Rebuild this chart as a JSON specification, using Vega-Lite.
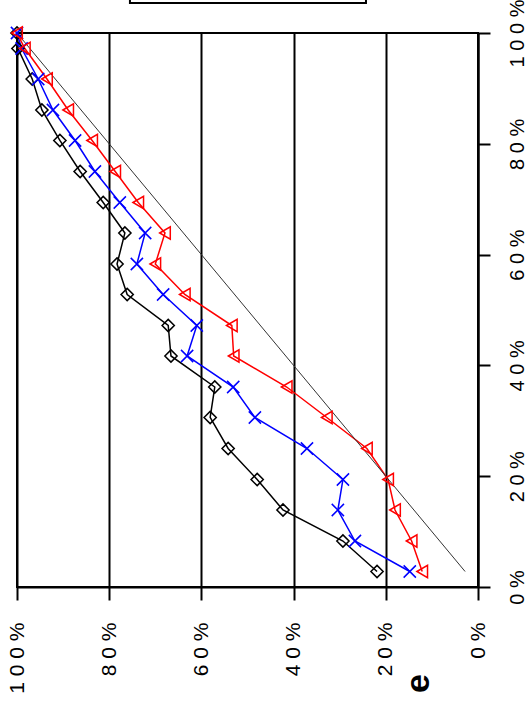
{
  "$schema": "https://vega.github.io/schema/vega-lite/v6.json",
  "autosize": {"type": "none"},
  "padding": {"left": 17, "top": 33, "right": 53, "bottom": 117},
  "width": 461,
  "height": 554,
  "background": "white",
  "config": {
    "view": {"stroke": "black", "strokeWidth": 2},
    "font": "Liberation Sans"
  },
  "datasets": {
    "series": [
      {"series": "Series 1", "v": 0.028, "h": 0.219},
      {"series": "Series 1", "v": 0.083, "h": 0.293},
      {"series": "Series 1", "v": 0.139, "h": 0.423},
      {"series": "Series 1", "v": 0.194, "h": 0.479},
      {"series": "Series 1", "v": 0.25, "h": 0.542},
      {"series": "Series 1", "v": 0.306, "h": 0.581},
      {"series": "Series 1", "v": 0.361, "h": 0.571},
      {"series": "Series 1", "v": 0.417, "h": 0.666},
      {"series": "Series 1", "v": 0.472, "h": 0.672},
      {"series": "Series 1", "v": 0.528, "h": 0.761},
      {"series": "Series 1", "v": 0.583, "h": 0.783},
      {"series": "Series 1", "v": 0.639, "h": 0.766},
      {"series": "Series 1", "v": 0.694, "h": 0.813},
      {"series": "Series 1", "v": 0.75, "h": 0.863},
      {"series": "Series 1", "v": 0.806, "h": 0.907},
      {"series": "Series 1", "v": 0.861, "h": 0.946},
      {"series": "Series 1", "v": 0.917, "h": 0.967},
      {"series": "Series 1", "v": 0.972, "h": 0.998},
      {"series": "Series 1", "v": 1.0, "h": 1.0},
      {"series": "Series 2", "v": 0.028, "h": 0.148},
      {"series": "Series 2", "v": 0.083, "h": 0.267},
      {"series": "Series 2", "v": 0.139, "h": 0.304},
      {"series": "Series 2", "v": 0.194, "h": 0.293},
      {"series": "Series 2", "v": 0.25, "h": 0.371},
      {"series": "Series 2", "v": 0.306, "h": 0.484},
      {"series": "Series 2", "v": 0.361, "h": 0.531},
      {"series": "Series 2", "v": 0.417, "h": 0.631},
      {"series": "Series 2", "v": 0.472, "h": 0.61},
      {"series": "Series 2", "v": 0.528, "h": 0.683},
      {"series": "Series 2", "v": 0.583, "h": 0.74},
      {"series": "Series 2", "v": 0.639, "h": 0.722},
      {"series": "Series 2", "v": 0.694, "h": 0.777},
      {"series": "Series 2", "v": 0.75, "h": 0.831},
      {"series": "Series 2", "v": 0.806, "h": 0.874},
      {"series": "Series 2", "v": 0.861, "h": 0.922},
      {"series": "Series 2", "v": 0.917, "h": 0.954},
      {"series": "Series 2", "v": 0.972, "h": 0.99},
      {"series": "Series 2", "v": 1.0, "h": 1.0},
      {"series": "Series 3", "v": 0.028, "h": 0.121},
      {"series": "Series 3", "v": 0.083, "h": 0.144},
      {"series": "Series 3", "v": 0.139, "h": 0.18},
      {"series": "Series 3", "v": 0.194, "h": 0.195},
      {"series": "Series 3", "v": 0.25, "h": 0.241},
      {"series": "Series 3", "v": 0.306, "h": 0.328},
      {"series": "Series 3", "v": 0.361, "h": 0.415},
      {"series": "Series 3", "v": 0.417, "h": 0.53},
      {"series": "Series 3", "v": 0.472, "h": 0.534},
      {"series": "Series 3", "v": 0.528, "h": 0.636},
      {"series": "Series 3", "v": 0.583, "h": 0.7},
      {"series": "Series 3", "v": 0.639, "h": 0.679},
      {"series": "Series 3", "v": 0.694, "h": 0.737},
      {"series": "Series 3", "v": 0.75, "h": 0.787},
      {"series": "Series 3", "v": 0.806, "h": 0.837},
      {"series": "Series 3", "v": 0.861, "h": 0.889},
      {"series": "Series 3", "v": 0.917, "h": 0.935},
      {"series": "Series 3", "v": 0.972, "h": 0.983},
      {"series": "Series 3", "v": 1.0, "h": 1.0}
    ],
    "diag": [
      {"v": 0.028, "h": 0.028},
      {"v": 1.0, "h": 1.0}
    ]
  },
  "layer": [
    {
      "data": {"name": "series"},
      "mark": {"type": "line", "strokeWidth": 1.5},
      "encoding": {
        "x": {
          "field": "h",
          "type": "quantitative",
          "scale": {"domain": [0, 1], "reverse": true, "nice": false, "zero": false},
          "axis": {
            "orient": "bottom",
            "values": [0, 0.2, 0.4, 0.6, 0.8, 1],
            "grid": true,
            "gridColor": "black",
            "gridWidth": 2,
            "gridOpacity": 1,
            "domainColor": "black",
            "domainWidth": 2,
            "tickColor": "black",
            "tickWidth": 2,
            "tickSize": 13,
            "labelAngle": 270,
            "labelAlign": "right",
            "labelBaseline": "middle",
            "labelPadding": 22,
            "labelFont": "Liberation Sans",
            "labelFontSize": 21,
            "labelColor": "black",
            "labelFlush": false,
            "labelOverlap": false,
            "labelExpr": "datum.value > 0.99 ? '1 0 0 %' : (datum.value < 0.01 ? '0 %' : (round(datum.value * 10) + ' 0 %'))",
            "title": "e",
            "titleAngle": 270,
            "titleFont": "Liberation Sans",
            "titleFontSize": 34,
            "titleFontWeight": "bold",
            "titleColor": "black",
            "titleX": 401,
            "titleY": 96,
            "titleAlign": "center",
            "titleBaseline": "middle"
          }
        },
        "y": {
          "field": "v",
          "type": "quantitative",
          "scale": {"domain": [0, 1], "nice": false, "zero": false},
          "axis": {
            "orient": "right",
            "values": [0, 0.2, 0.4, 0.6, 0.8, 1],
            "grid": false,
            "domainColor": "black",
            "domainWidth": 2,
            "tickColor": "black",
            "tickWidth": 2,
            "tickSize": 12,
            "labelAngle": 270,
            "labelAlign": "center",
            "labelBaseline": "top",
            "labelPadding": 17,
            "labelFont": "Liberation Sans",
            "labelFontSize": 20,
            "labelColor": "black",
            "labelFlush": false,
            "labelOverlap": false,
            "labelExpr": "datum.value > 0.99 ? '1 0 0 %' : (datum.value < 0.01 ? '0 %' : (round(datum.value * 10) + ' 0 %'))",
            "title": null
          }
        },
        "order": {"field": "v", "type": "quantitative"},
        "color": {
          "field": "series",
          "type": "nominal",
          "scale": {"domain": ["Series 1", "Series 2", "Series 3"], "range": ["#000000", "#0000ff", "#ff0000"]},
          "legend": null
        }
      }
    },
    {
      "data": {"values": [{"item": "legend frame"}]},
      "mark": {"type": "rect", "fillOpacity": 0, "fill": "white", "stroke": "black", "strokeWidth": 2},
      "encoding": {
        "x": {"datum": 0.755, "type": "quantitative", "scale": {"domain": [0, 1], "reverse": true, "nice": false, "zero": false}},
        "x2": {"datum": 0.243},
        "y": {"datum": 1.054, "type": "quantitative", "scale": {"domain": [0, 1], "nice": false, "zero": false}},
        "y2": {"datum": 1.3}
      }
    },
    {
      "data": {"name": "diag"},
      "mark": {"type": "line", "color": "#333333", "strokeWidth": 1},
      "encoding": {
        "x": {"field": "h", "type": "quantitative", "scale": {"domain": [0, 1], "reverse": true, "nice": false, "zero": false}},
        "y": {"field": "v", "type": "quantitative", "scale": {"domain": [0, 1], "nice": false, "zero": false}}
      }
    },
    {
      "data": {"name": "series"},
      "mark": {"type": "point", "filled": false, "strokeWidth": 1.5, "size": 150, "opacity": 1},
      "encoding": {
        "x": {"field": "h", "type": "quantitative", "scale": {"domain": [0, 1], "reverse": true, "nice": false, "zero": false}},
        "y": {"field": "v", "type": "quantitative", "scale": {"domain": [0, 1], "nice": false, "zero": false}},
        "color": {
          "field": "series",
          "type": "nominal",
          "scale": {"domain": ["Series 1", "Series 2", "Series 3"], "range": ["#000000", "#0000ff", "#ff0000"]},
          "legend": null
        },
        "shape": {
          "field": "series",
          "type": "nominal",
          "scale": {"domain": ["Series 1", "Series 2", "Series 3"], "range": ["diamond", "M-1,-1L1,1M-1,1L1,-1", "triangle-left"]},
          "legend": null
        }
      }
    }
  ]
}
